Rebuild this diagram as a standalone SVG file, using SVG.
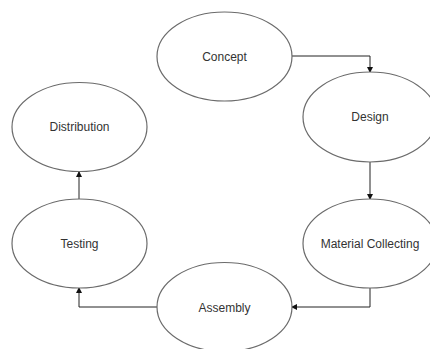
<svg xmlns="http://www.w3.org/2000/svg" width="430" height="349" viewBox="0 0 430 349">
<style>
.n ellipse{fill:#fff;stroke:#6b6b6b;stroke-width:1.2}
.n text{font-family:"Liberation Sans",Arial,sans-serif;font-size:12px;fill:#333;text-anchor:middle;dominant-baseline:central}
.c path{fill:none;stroke:#222;stroke-width:1}
</style>
<defs>
<marker id="ah" markerWidth="6" markerHeight="6" refX="5" refY="3" orient="auto" markerUnits="userSpaceOnUse">
<path d="M0,0 L6,3 L0,6 Z" fill="#111"/>
</marker>
</defs>
<rect width="430" height="349" fill="#fff"/>
<g class="c">
<path d="M292,56 H370 V72" marker-end="url(#ah)"/>
<path d="M370,162 V199" marker-end="url(#ah)"/>
<path d="M370,288 V307 H292" marker-end="url(#ah)"/>
<path d="M157,307 H79 V288" marker-end="url(#ah)"/>
<path d="M79,199 V172" marker-end="url(#ah)"/>
</g>
<g id="concept" class="n"><ellipse cx="224.5" cy="56.5" rx="67.5" ry="44.5"/><text x="224.5" y="57">Concept</text></g>
<g id="design" class="n"><ellipse cx="370" cy="117" rx="67" ry="45"/><text x="370" y="117">Design</text></g>
<g id="material" class="n"><ellipse cx="370" cy="243.5" rx="67" ry="44.5"/><text x="370" y="244">Material Collecting</text></g>
<g id="assembly" class="n"><ellipse cx="224.5" cy="307" rx="67.5" ry="44.5"/><text x="224.5" y="308">Assembly</text></g>
<g id="testing" class="n"><ellipse cx="79.5" cy="243.5" rx="67.5" ry="44.5"/><text x="79.5" y="244">Testing</text></g>
<g id="distribution" class="n"><ellipse cx="79.5" cy="127" rx="67.5" ry="44.5"/><text x="79.5" y="127">Distribution</text></g>
</svg>
